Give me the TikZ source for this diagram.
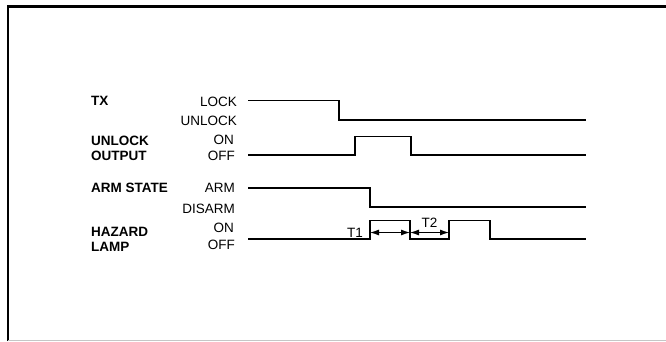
\documentclass[tikz,border=0pt]{standalone}
\usepackage{fontspec}
\setmainfont{Liberation Sans}
\usetikzlibrary{positioning,arrows.meta}

\begin{document}
\begin{tikzpicture}[
  x=1pt, y=-1pt,
  font=\fontsize{13.5}{15}\selectfont,
  signame/.style={anchor=west, inner sep=0pt, font=\fontsize{13.5}{15}\selectfont\bfseries},
  level/.style ={anchor=east, inner sep=0pt},
  wave/.style  ={line width=1.3pt},
  frame/.style ={line width=2.4pt},
  span/.style  ={{Latex[length=9pt,width=6pt]}-{Latex[length=9pt,width=6pt]}, line width=1pt},
]

\useasboundingbox (0,0) rectangle (666,341);

\draw[frame] (8,341) -- (8,6.5) -- (666,6.5);
\draw[gray!45, line width=0.6pt] (8,340) -- (666,340);

\node[signame] (tx)     at (91,101) {TX};
\node[signame] (unl)    at (91,141) {UNLOCK};
\node[signame] (outp)   at (91,156) {OUTPUT};
\node[signame] (arm)    at (91,188) {ARM STATE};
\node[signame] (haz)    at (91,232) {HAZARD};
\node[signame] (lamp)   at (91,247) {LAMP};

\node[level] (lock)   at (237,102) {LOCK};
\node[level] (unlock) at (237,121) {UNLOCK};
\node[level] (uon)    at (234,140) {ON};
\node[level] (uoff)   at (235,156) {OFF};
\node[level] (armd)   at (235,188) {ARM};
\node[level] (disarm) at (235,209) {DISARM};
\node[level] (hon)    at (234,228) {ON};
\node[level] (hoff)   at (235,245) {OFF};

\coordinate (txs)  at (248,100.5);
\coordinate (uos)  at (248,155);
\coordinate (ams)  at (248,188);
\coordinate (hzs)  at (248,239);

\draw[wave] (txs) -- (339,100.5) -- (339,120) -- (586,120);
\draw[wave] (uos) -- (355,155) -- (355,136.5) -- (411,136.5) -- (411,155) -- (586,155);
\draw[wave] (ams) -- (370,188) -- (370,207) -- (586,207);
\draw[wave] (hzs) -- (370,239) -- (370,220.5) -- (410,220.5) -- (410,239)
  -- (449,239) -- (449,220.5) -- (490,220.5) -- (490,239) -- (586,239);

\coordinate (t1a) at (370,232.5);
\coordinate (t1b) at (410,232.5);
\coordinate (t2b) at (449,232.5);

\draw[span] (t1a) -- (t1b);
\draw[span] (t1b) -- (t2b);
\node[left=7pt of t1a, inner sep=0pt] (t1) {T1};
\node[inner sep=0pt] (t2) at (429.5,222.5) {T2};

\end{tikzpicture}
\end{document}
